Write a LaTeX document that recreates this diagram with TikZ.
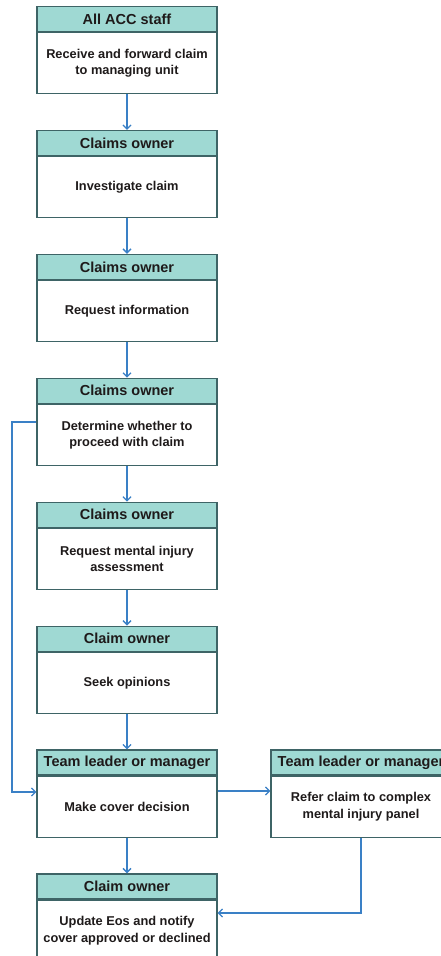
\documentclass[tikz,border=0pt]{standalone}
\usepackage{fontspec}
\setmainfont{Liberation Sans}
\usetikzlibrary{arrows.meta}
\definecolor{hdr}{HTML}{9FD9D3}
\definecolor{edge}{HTML}{3E6466}
\definecolor{arr}{HTML}{3A80C6}
\definecolor{txt}{HTML}{1E1A1A}
\tikzset{
  hbox/.style={draw=edge, line width=1.2pt, fill=hdr, minimum width=180pt, minimum height=25pt, inner sep=0pt, font=\bfseries\fontsize{14.5}{16}\selectfont, text=txt},
  bbox/.style={draw=edge, line width=1.2pt, fill=white, minimum width=180pt, minimum height=61pt, inner sep=0pt, align=center, font=\bfseries\fontsize{12.8}{16.5}\selectfont, text=txt},
  conn/.style={draw=arr, line width=1.6pt, -{Straight Barb[length=4pt,width=8pt,line width=1.3pt]}},
}
\begin{document}
\begin{tikzpicture}[x=1pt,y=-1pt]
\useasboundingbox (0,0) rectangle (441,956);
\clip (0,0) rectangle (441,956);
\fill[white] (0,0) rectangle (441,956);
% step boxes: top = 6 + 123.9*(i-1); header 25, body 61
\node[hbox, anchor=north] (h1) at (127,6) {All ACC staff};
\node[bbox, anchor=north] (b1) at (h1.south) {Receive and forward claim\\to managing unit};
\node[hbox, anchor=north] (h2) at (127,129.9) {Claims owner};
\node[bbox, anchor=north] (b2) at (h2.south) {Investigate claim};
\node[hbox, anchor=north] (h3) at (127,253.8) {Claims owner};
\node[bbox, anchor=north] (b3) at (h3.south) {Request information};
\node[hbox, anchor=north] (h4) at (127,377.7) {Claims owner};
\node[bbox, anchor=north] (b4) at (h4.south) {Determine whether to\\proceed with claim};
\node[hbox, anchor=north] (h5) at (127,501.6) {Claims owner};
\node[bbox, anchor=north] (b5) at (h5.south) {Request mental injury\\assessment};
\node[hbox, anchor=north] (h6) at (127,625.5) {Claim owner};
\node[bbox, anchor=north] (b6) at (h6.south) {Seek opinions};
\node[hbox, anchor=north] (h7) at (127,749.4) {Team leader or manager};
\node[bbox, anchor=north] (b7) at (h7.south) {Make cover decision};
\node[hbox, anchor=north] (h8) at (127,873.3) {Claim owner};
\node[bbox, anchor=north] (b8) at (h8.south) {Update Eos and notify\\cover approved or declined};
\node[hbox, anchor=north] (h9) at (361,749.4) {Team leader or manager};
\node[bbox, anchor=north] (b9) at (h9.south) {Refer claim to complex\\mental injury panel};
% connectors
\draw[conn] (b1.south) -- (h2.north);
\draw[conn] (b2.south) -- (h3.north);
\draw[conn] (b3.south) -- (h4.north);
\draw[conn] (b4.south) -- (h5.north);
\draw[conn] (b5.south) -- (h6.north);
\draw[conn] (b6.south) -- (h7.north);
\draw[conn] (b7.south) -- (h8.north);
\coordinate (l1) at (12,422);
\coordinate (l2) at (12,792);
\draw[conn] (b4.west |- l1) -- (l1) -- (l2) -- (b7.west |- l2);
\draw[conn] (b7.east |- 0,791) -- (b9.west |- 0,791);
\coordinate (r1) at (361,913);
\draw[conn] (b9.south) -- (r1) -- (b8.east |- r1);
\end{tikzpicture}
\end{document}
